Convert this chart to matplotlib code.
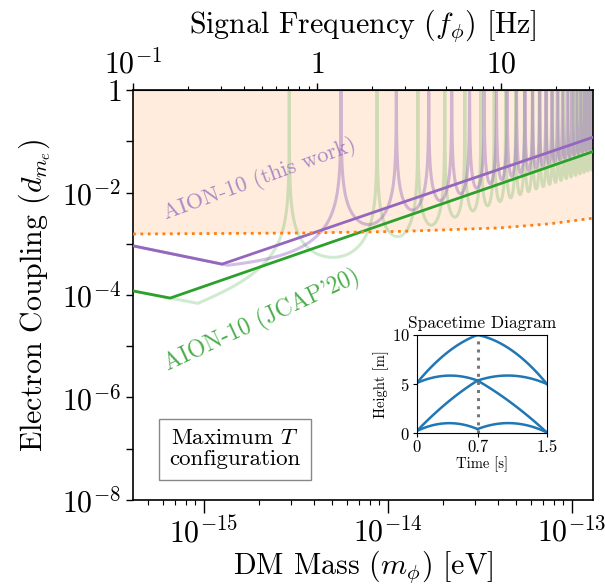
import numpy as np
import matplotlib.pyplot as plt
from matplotlib.ticker import FixedLocator, NullFormatter, LogLocator

plt.rcParams['font.family'] = 'serif'
plt.rcParams['font.serif'] = ['cmr10']
plt.rcParams['mathtext.fontset'] = 'cm'
plt.rcParams['axes.unicode_minus'] = False
plt.rcParams['axes.formatter.use_mathtext'] = True

EV_PER_HZ = 4.135667e-15  # Planck constant in eV s

# sensitivity envelopes (DM mass in eV, coupling d_me)
this_work_mass = [4.14e-16, 1.26e-15, 1.31e-13]
this_work_dme = [9.1e-4, 4.0e-4, 1.2e-1]
jcap_mass = [4.14e-16, 6.58e-16, 1.31e-13]
jcap_dme = [1.2e-4, 8.7e-5, 6.3e-2]

# existing bound (orange dotted)
bound_mass = [4.14e-16, 3.34e-15, 1.17e-14, 4.08e-14, 7.64e-14, 1.31e-13]
bound_dme = [1.55e-3, 1.62e-3, 1.74e-3, 2.04e-3, 2.45e-3, 3.16e-3]

# resonance structure of the full response
this_work_res_hz = 1.35   # zeros at n * f0
jcap_res_hz = 0.707       # zeros at odd multiples of f0
this_work_floor = 0.6
jcap_floor = 0.45

# inset: atom trajectories, each arc given by (start, middle, end)
traj_t = [[0, 0.35, 0.7], [0.7, 1.1, 1.5],
          [0, 0.35, 0.7], [0.7, 1.1, 1.5],
          [0, 0.35, 0.7], [0.7, 1.1, 1.5],
          [0, 0.35, 0.7], [0.7, 1.1, 1.5]]
traj_h = [[5.1, 8.2, 10.0], [10.0, 8.4, 5.0],
          [5.1, 5.85, 5.35], [5.35, 5.85, 5.0],
          [0.2, 3.1, 5.35], [5.35, 3.0, 0.05],
          [0.2, 1.0, 0.4], [0.4, 1.0, 0.05]]

xmin, xmax = 0.1 * EV_PER_HZ, 10**1.5 * EV_PER_HZ


def branch(mx, my, i, m):
    # straight line (log-log) through vertices i and i+1
    lx, ly = np.log10(mx), np.log10(my)
    s = (ly[i + 1] - ly[i]) / (lx[i + 1] - lx[i])
    return 10**(ly[i] + s * (np.log10(m) - lx[i]))


f = np.geomspace(0.1, 10**1.5, 150000)
m = f * EV_PER_HZ
resp_p = np.abs(np.sin(np.pi * f / this_work_res_hz)) + 1e-9
resp_g = np.abs(np.cos(np.pi * f / (2 * jcap_res_hz))) + 1e-9
full_p = np.maximum(branch(this_work_mass, this_work_dme, 0, m),
                    branch(this_work_mass, this_work_dme, 1, m) * this_work_floor / resp_p)
full_g = np.maximum(branch(jcap_mass, jcap_dme, 0, m),
                    branch(jcap_mass, jcap_dme, 1, m) * jcap_floor / resp_g)
full_p = np.minimum(full_p, 10)
full_g = np.minimum(full_g, 10)

fig = plt.figure(figsize=(6.05, 5.88), dpi=100)
ax = fig.add_axes([0.2198, 0.1497, 0.7603, 0.6972])
ax.set_xscale('log')
ax.set_yscale('log')
ax.set_xlim(xmin, xmax)
ax.set_ylim(1e-8, 1)

ax.fill_between(bound_mass, bound_dme, 1, color='#ff7f0e', alpha=0.14, lw=0, zorder=0)
ax.plot(m, full_g, color='#2ca02c', alpha=0.22, lw=2.2, zorder=1)
ax.plot(m, full_p, color='#9467bd', alpha=0.42, lw=2.2, zorder=1)
ax.plot(jcap_mass, jcap_dme, color='#2ca02c', lw=2, zorder=3)
ax.plot(this_work_mass, this_work_dme, color='#9467bd', lw=2, zorder=3)
ax.plot(bound_mass, bound_dme, color='#ff7f0e', ls=':', lw=2, zorder=4)

ax.text(2.03e-15, 1.83e-2, 'AION-10 (this work)', color='#9467bd', alpha=0.75,
        fontsize=16, rotation=20, ha='center', va='center', rotation_mode='anchor')
ax.text(2.08e-15, 3.1e-5, "AION-10 (JCAP'20)", color='#2ca02c', alpha=0.85,
        fontsize=17, rotation=25, ha='center', va='center', rotation_mode='anchor')
ax.text(0.222, 0.124, 'Maximum $T$\nconfiguration', transform=ax.transAxes,
        fontsize=16.5, ha='center', va='center', multialignment='center',
        linespacing=1.1,
        bbox=dict(boxstyle='square,pad=0.45', fc='white', ec='#888888', lw=1))

ax.set_xlabel(r'DM Mass ($m_\phi$) [eV]', fontsize=21.5, labelpad=0)
ax.set_ylabel(r'Electron Coupling ($d_{m_e}$)', fontsize=21.5, labelpad=6)

ax.xaxis.set_major_locator(FixedLocator([1e-15, 1e-14, 1e-13]))
ax.xaxis.set_minor_locator(LogLocator(base=10, subs=np.arange(2, 10)))
ax.xaxis.set_minor_formatter(NullFormatter())
ax.set_xticklabels(['$10^{-15}$', '$10^{-14}$', '$10^{-13}$'])
ax.yaxis.set_major_locator(FixedLocator([1e-8, 1e-6, 1e-4, 1e-2, 1]))
ax.yaxis.set_minor_locator(FixedLocator([1e-7, 1e-5, 1e-3, 1e-1]))
ax.yaxis.set_minor_formatter(NullFormatter())
ax.set_yticklabels(['$10^{-8}$', '$10^{-6}$', '$10^{-4}$', '$10^{-2}$', '$1$'])
ax.tick_params(axis='x', which='major', length=9, width=1, labelsize=21.5, pad=3)
ax.tick_params(axis='x', which='minor', length=3.5, width=0.8)
ax.tick_params(axis='y', which='both', length=5, width=1, labelsize=21.5)
for sp in ax.spines.values():
    sp.set_linewidth(1.2)

sec = ax.secondary_xaxis('top', functions=(lambda x: x / EV_PER_HZ,
                                           lambda x: x * EV_PER_HZ))
sec.set_xticks([0.1, 1, 10])
sec.set_xticklabels(['$10^{-1}$', '$1$', '$10$'])
sec.xaxis.set_minor_locator(LogLocator(base=10, subs=np.arange(2, 10)))
sec.xaxis.set_minor_formatter(NullFormatter())
sec.tick_params(axis='x', which='major', length=5, width=1, labelsize=21.5, pad=3)
sec.tick_params(axis='x', which='minor', length=3, width=0.8)
sec.set_xlabel(r'Signal Frequency ($f_\phi$) [Hz]', fontsize=21.5, labelpad=11)

# inset spacetime diagram
ins = fig.add_axes([0.689, 0.2636, 0.215, 0.1667])
for t, h in zip(traj_t, traj_h):
    c = np.polyfit(t, h, 2)
    tt = np.linspace(t[0], t[-1], 60)
    ins.plot(tt, np.polyval(c, tt), color='#1f77b4', lw=1.8)
ins.axvline(0.7, color='#777777', ls=':', lw=2.2)
ins.set_xlim(0, 1.5)
ins.set_ylim(0, 10)
ins.set_xticks([0, 0.7, 1.5])
ins.set_xticklabels(['0', '0.7', '1.5'])
ins.set_yticks([0, 5, 10])
ins.tick_params(labelsize=12, length=3, pad=2)
ins.set_title('Spacetime Diagram', fontsize=12.5, pad=5)
ins.set_xlabel('Time [s]', fontsize=10.5, labelpad=1)
ins.set_ylabel('Height [m]', fontsize=10.5, labelpad=2)

fig.savefig('out.png', dpi=100)
